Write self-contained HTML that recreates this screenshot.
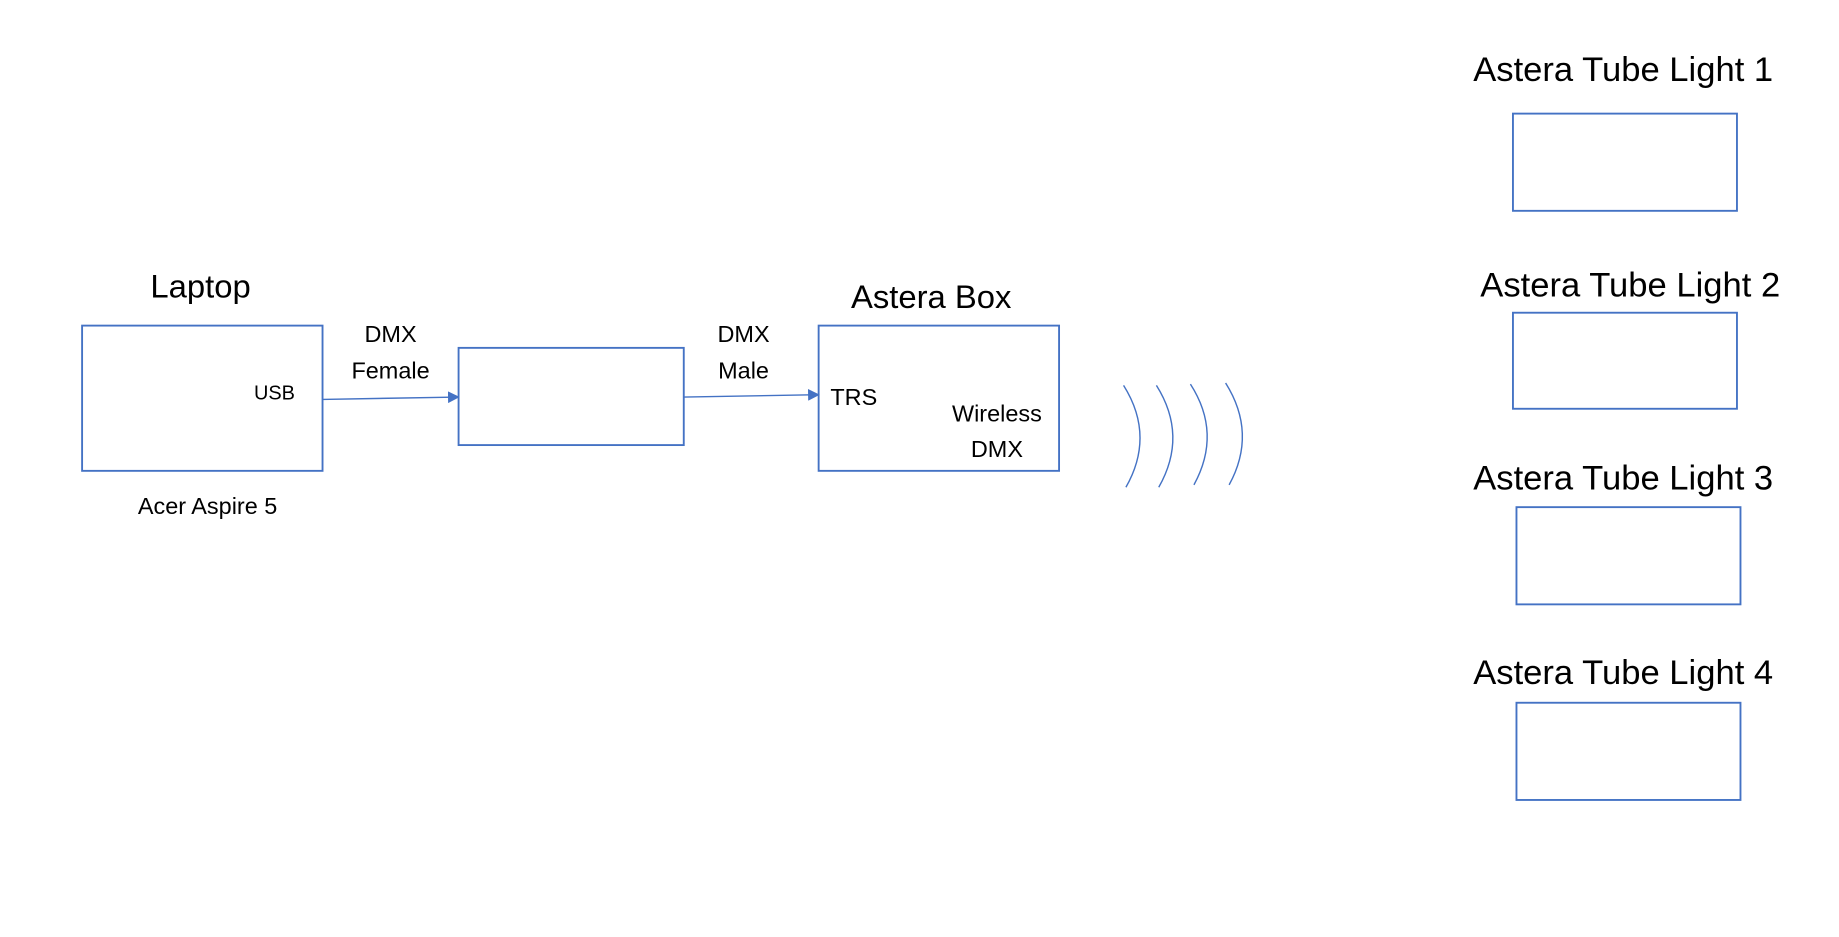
<!DOCTYPE html>
<html><head><meta charset="utf-8"><style>html,body{margin:0;padding:0;background:#fff}svg{display:block}</style></head>
<body>
<svg width="1839" height="937" viewBox="0 0 1568 800" preserveAspectRatio="none" xmlns="http://www.w3.org/2000/svg" font-family="Liberation Sans, sans-serif" fill="#000">
<defs><marker id="a" markerWidth="10" markerHeight="10" refX="9" refY="5" orient="auto" markerUnits="userSpaceOnUse"><path d="M0,0 L10,5 L0,10 z" fill="#4472c4"/></marker></defs>
<g fill="none" stroke="#4472c4" stroke-width="1.6">
<rect x="70" y="278" width="205" height="124"/>
<rect x="391" y="297" width="192" height="83"/>
<rect x="698" y="278" width="205" height="124"/>
<rect x="1290" y="97" width="191" height="83"/>
<rect x="1290" y="267" width="191" height="82"/>
<rect x="1293" y="433" width="191" height="83"/>
<rect x="1293" y="600" width="191" height="83"/>
</g>
<g stroke="#4472c4" stroke-width="1.2" fill="none">
<line x1="275" y1="341" x2="391" y2="339" marker-end="url(#a)"/>
<line x1="583" y1="339" x2="698" y2="337" marker-end="url(#a)"/>
<path d="M958,329 Q985,372 960,416"/>
<path d="M986,329 Q1013,372 988,416"/>
<path d="M1015,328 Q1042,370 1018,414"/>
<path d="M1045,327 Q1072,370 1048,414"/>
</g>
<g text-anchor="middle" font-size="28">
<text x="171" y="254">Laptop</text>
<text x="794" y="263">Astera Box</text>
</g>
<g text-anchor="middle" font-size="29.5">
<text x="1384" y="69">Astera Tube Light 1</text>
<text x="1390" y="253">Astera Tube Light 2</text>
<text x="1384" y="418">Astera Tube Light 3</text>
<text x="1384" y="584">Astera Tube Light 4</text>
</g>
<g text-anchor="middle" font-size="20">
<text x="333" y="292">DMX</text>
<text x="333" y="323">Female</text>
<text x="634" y="292">DMX</text>
<text x="634" y="323">Male</text>
<text x="850" y="360">Wireless</text>
<text x="850" y="390">DMX</text>
<text x="177" y="439">Acer Aspire 5</text>
<text x="728" y="346">TRS</text>
</g>
<text x="234" y="341" text-anchor="middle" font-size="17">USB</text>
</svg>
</body></html>
